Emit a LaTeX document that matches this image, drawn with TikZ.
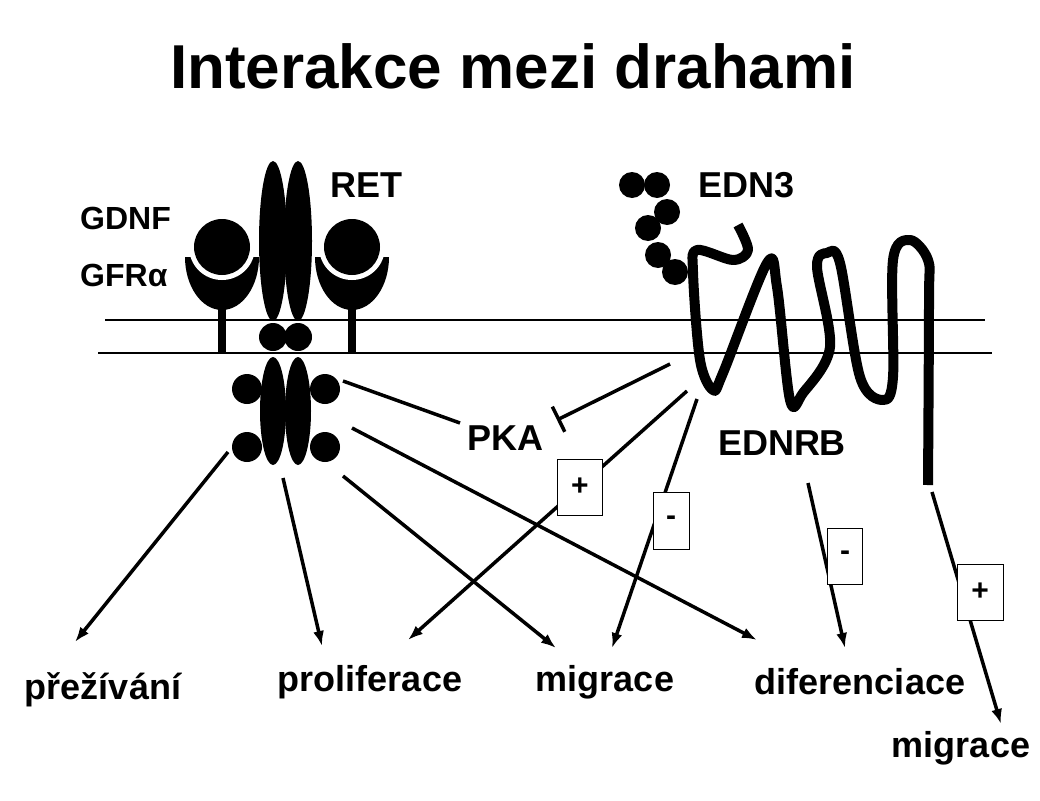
\documentclass[tikz,border=0pt]{standalone}
\usepackage{fontspec}
\setmainfont{Liberation Sans}
\usetikzlibrary{arrows.meta}
\begin{document}
\begin{tikzpicture}[x=1pt,y=-1pt,
  lbl/.style={font=\fontsize{36}{40}\selectfont\bfseries,inner sep=0pt},
  slbl/.style={font=\fontsize{32}{36}\selectfont\bfseries,inner sep=0pt},
  arr/.style={line width=3.5pt,-{Latex[length=15pt,width=11pt]}},
  ln/.style={line width=3.5pt},
  box/.style={draw,line width=1pt,fill=white,font=\fontsize{30}{32}\selectfont\bfseries,inner sep=0pt}]
\useasboundingbox (0,0) rectangle (1040,800);
\node[font=\fontsize{62}{66}\selectfont\bfseries] (title) at (513,66) {Interakce mezi drahami};
% membrane
\draw[line width=2pt] (105,320) -- (985,320);
\draw[line width=2pt] (98,353) -- (992,353);
% GFRa cups
\foreach \cx/\nm in {222/gl,352/gr}{
  \fill (\cx-37,257) arc[start angle=180,end angle=0,x radius=37,y radius=53] -- cycle;
  \fill[white] (\cx,247) circle[radius=33];
  \fill (\cx,247) circle[radius=28];
  \fill (\cx-4,300) rectangle (\cx+4,353);
}
% RET
\fill (273,241) ellipse[x radius=14,y radius=80];
\fill (298,241) ellipse[x radius=14,y radius=80];
\fill (273,337) circle[radius=14];
\fill (298,337) circle[radius=14];
\fill (273,411) ellipse[x radius=13,y radius=54];
\fill (298,411) ellipse[x radius=13,y radius=54];
\foreach \p in {(247,389),(247,447),(325,389),(325,447)} \fill \p circle[radius=15];
% labels
\node[slbl,anchor=west] (gdnf) at (80,218) {GDNF};
\node[slbl,anchor=west] (gfr) at (80,275) {GFRα};
\node[lbl,anchor=west] (ret) at (330,185) {RET};
\node[lbl,anchor=west] (edn3) at (698,185) {EDN3};
\node[lbl] (ednrb) at (782,443) {EDNRB};
\node[lbl] (pka) at (505,438) {PKA};
% EDN3 dots
\foreach \p in {(632,185),(657,185),(667,212),(648,228),(658,255),(675,272)} \fill \p circle[radius=13];
% EDNRB
\draw[line width=10pt,line cap=butt,line join=round] plot[smooth,tension=0.55] coordinates {
 (738,225) (748,250) (733,260) (697,250) (693,272) (700,360) (713,390) (723,373)
 (767,263) (777,287) (790,400) (803,393) (830,347) (817,267) (827,253) (840,263)
 (860,377) (883,400) (893,377) (893,260) (910,240) (928,260) (929,300) (928,485)};
% targets
\node[lbl] (prez) at (103,690) {přežívání};
\node[lbl] (prol) at (370,682) {proliferace};
\node[lbl] (mig1) at (605,682) {migrace};
\node[lbl] (dif) at (860,682) {diferenciace};
\node[lbl] (mig2) at (961,748) {migrace};
\coordinate (a1) at (228,452); \coordinate (e1) at (75,642);
\coordinate (a2) at (283,478); \coordinate (e2) at (322,646);
\coordinate (a3) at (343,476); \coordinate (e3) at (556,648);
\coordinate (a4) at (352,428); \coordinate (e4) at (757,640);
\draw[arr] (a1) -- (e1);
\draw[arr] (a2) -- (e2);
\draw[arr] (a3) -- (e3);
\draw[arr] (a4) -- (e4);
% PKA
\coordinate (p1) at (343,381); \coordinate (p2) at (460,423);
\draw[ln] (p1) -- (p2);
\coordinate (i1) at (670,364); \coordinate (i2) at (557,420);
\draw[ln,-{Bar[width=28pt]}] (i1) -- (i2);
% EDNRB arrows
\coordinate (b1) at (687,391); \coordinate (f1) at (408,640);
\coordinate (b2) at (697,399); \coordinate (f2) at (612,648);
\coordinate (b3) at (808,483); \coordinate (f3) at (845,648);
\coordinate (b4) at (932,492); \coordinate (f4) at (1001,724);
\draw[arr] (b1) -- (f1);
\draw[arr] (b2) -- (f2);
\draw[arr] (b3) -- (f3);
\draw[arr] (b4) -- (f4);
\node[box,minimum width=45pt,minimum height=56pt] (s1) at (580,487) {+};
\node[box,minimum width=36pt,minimum height=57pt] (s2) at (671,521) {-};
\node[box,minimum width=35pt,minimum height=56pt] (s3) at (845,556) {-};
\node[box,minimum width=46pt,minimum height=56pt] (s4) at (980,592) {+};
\end{tikzpicture}
\end{document}
